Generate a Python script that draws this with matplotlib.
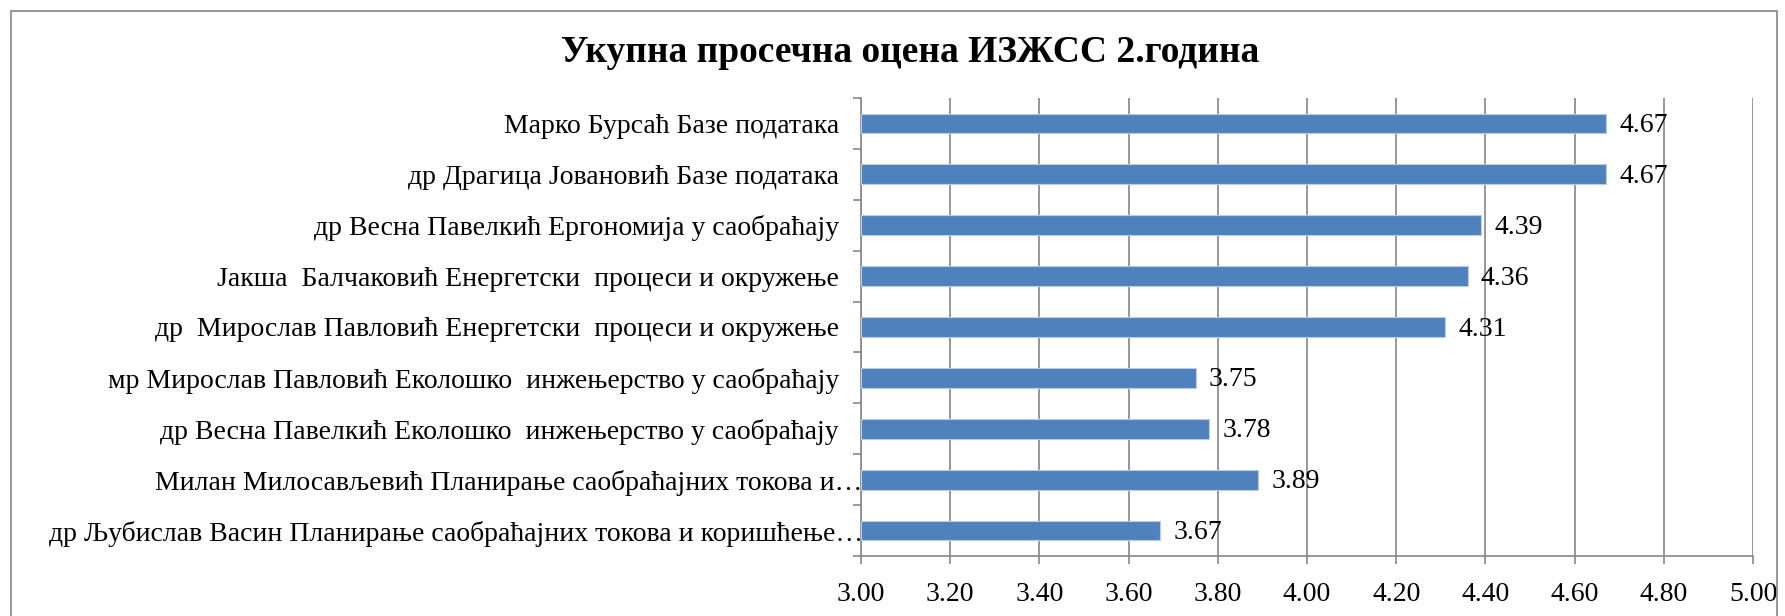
import matplotlib
matplotlib.use("Agg")
import matplotlib.pyplot as plt
from matplotlib.patches import Rectangle
from matplotlib.ticker import MultipleLocator, FixedLocator
from matplotlib.transforms import ScaledTranslation

# categories listed bottom to top, as drawn
labels = [
    "др Љубислав Васин Планирање саобраћајних токова и коришћење…",
    "Милан Милосављевић Планирање саобраћајних токова и…",
    "др Весна Павелкић Еколошко  инжењерство у саобраћају",
    "мр Мирослав Павловић Еколошко  инжењерство у саобраћају",
    "др  Мирослав Павловић Енергетски  процеси и окружење",
    "Јакша  Балчаковић Енергетски  процеси и окружење",
    "др Весна Павелкић Ергономија у саобраћају",
    "др Драгица Јовановић Базе података",
    "Марко Бурсаћ Базе података",
]
scores = [3.67, 3.89, 3.78, 3.75, 4.31, 4.36, 4.39, 4.67, 4.67]
title = "Укупна просечна оцена ИЗЖСС 2.година"

plt.rcParams['font.family'] = ['Liberation Serif', 'DejaVu Serif']

W, H = 1785, 616
fig = plt.figure(figsize=(W / 100, H / 100), dpi=100)
ax = fig.add_axes([861 / W, 1 - 556 / H, (1753 - 861) / W, (556 - 98) / H])

grid_col = '#868686'
ypos = list(range(len(labels)))
ax.barh(ypos, [s - 3.0 for s in scores], left=3.0, height=0.39,
        color='#4F81BD', edgecolor='#B9CDE5', linewidth=0.8, zorder=3)

for y, s in zip(ypos, scores):
    ax.text(s + 0.03, y - 0.04, f"{s:.2f}", va='center', ha='left', fontsize=20, zorder=4)

ax.set_xlim(3.0, 5.0)
ax.set_ylim(-0.5, len(labels) - 0.5)
ax.xaxis.set_major_locator(MultipleLocator(0.2))
ax.xaxis.set_major_formatter(matplotlib.ticker.FormatStrFormatter('%.2f'))
ax.grid(axis='x', color=grid_col, linewidth=1.2, zorder=0)

ax.set_yticks(ypos)
ax.set_yticklabels(labels, fontsize=20)
ax.yaxis.set_minor_locator(FixedLocator([i - 0.5 for i in range(len(labels) + 1)]))
ax.tick_params(axis='y', which='major', length=0, pad=16)
ax.tick_params(axis='y', which='minor', length=6, color=grid_col, width=1.2)
ax.tick_params(axis='x', length=6, color=grid_col, width=1.2, labelsize=20, pad=13)

# truncated labels run right up to the axis, like in the original
for lbl in ax.get_yticklabels():
    if lbl.get_text().endswith("…"):
        lbl.set_transform(lbl.get_transform() + ScaledTranslation(0.24, 0, fig.dpi_scale_trans))

for side in ['top', 'right']:
    ax.spines[side].set_visible(False)
for side in ['left', 'bottom']:
    ax.spines[side].set_color(grid_col)
    ax.spines[side].set_linewidth(1.2)

fig.text(910 / W, 1 - 53 / H, title, ha='center', va='center',
         fontsize=27, fontweight='bold')

fig.add_artist(Rectangle((11 / W, -0.1), (1777 - 11) / W, 1.1 - 11 / H,
                         transform=fig.transFigure, fill=False,
                         edgecolor=grid_col, linewidth=1.2, clip_on=False))

fig.savefig("out.png", dpi=100)
